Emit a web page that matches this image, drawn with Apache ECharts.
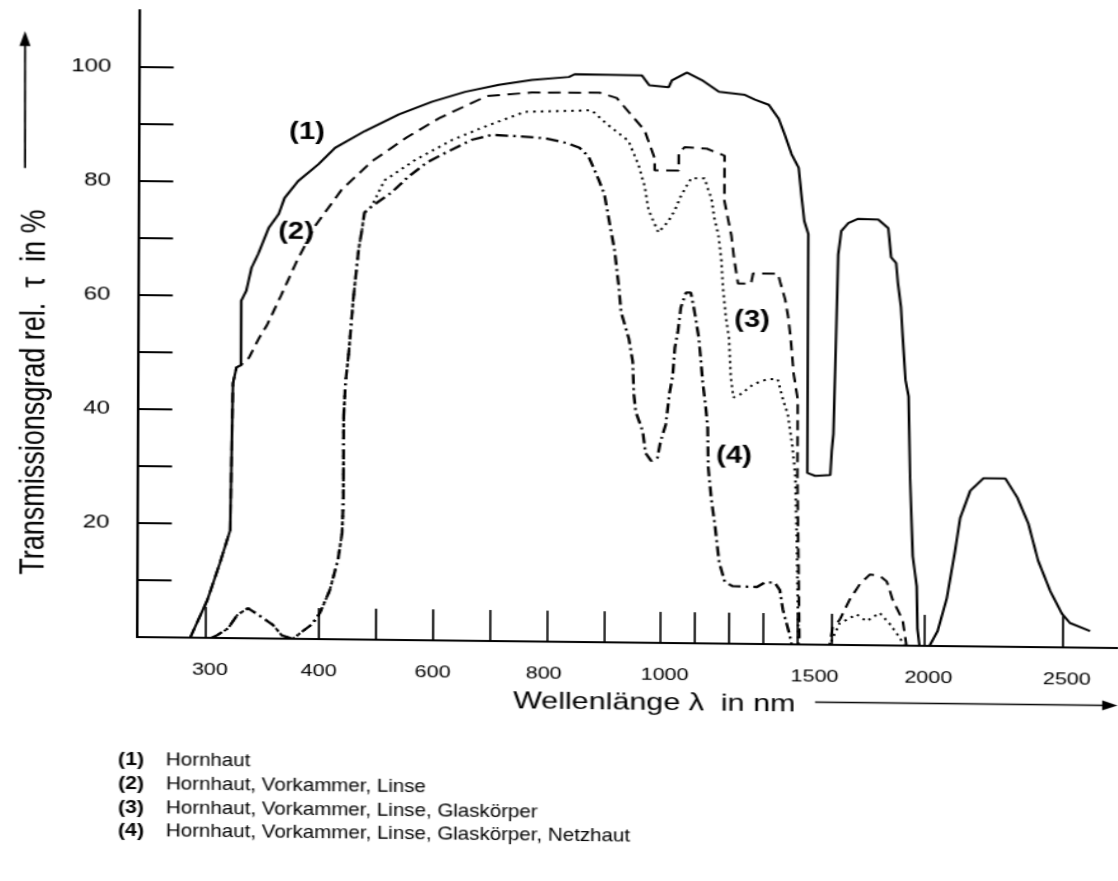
<!DOCTYPE html>
<html>
<head>
<meta charset="utf-8">
<script src="https://cdn.jsdelivr.net/npm/echarts@6/dist/echarts.min.js"></script>
<style>
  html, body { margin: 0; padding: 0; background: #fff; width: 1118px; height: 881px; overflow: hidden; }
  #chart { position: absolute; left: 0; top: 0; width: 880px; height: 881px; transform-origin: 0 0; }
</style>
</head>
<body>
<div id="chart"></div>
<script>
// ---------------- data (wavelength in nm, transmission in %) ----------------
const xTickNm  = [300, 400, 500, 600, 700, 800, 900, 1000, 1100, 1200, 1300, 1400, 1500, 2000, 2500];
const xLabelNm = [300, 400, 600, 800, 1000, 1500, 2000, 2500];
const yTickVals  = [10, 20, 30, 40, 50, 60, 70, 80, 90, 100];
const yLabelVals = [20, 40, 60, 80, 100];

// (1) Hornhaut
const hornhaut = [
  [286,0],[301,6.6],[312,13.1],[321,18.9],[323,44.7],[326,47.5],[330,47.9],[330,59.2],[334.5,61],[339,65],
  [345,67.5],[354,72],[363,74.5],[368,77.3],[380,80.3],[398,83.3],[425,86.2],[477,89.2],[537,92.2],[595,94.5],
  [653,96.3],[712,97.6],[770,98.5],[835,99.1],[845,99.6],[963,99.5],[976,97.8],[1017,97.5],[1026,98.7],[1070,100.1],
  [1114,98.8],[1164,96.8],[1240,96.3],[1269,95.5],[1310,94.6],[1339,92.2],[1357,89.4],[1377,86],[1398,83.6],[1406,79],
  [1415,74.3],[1427,72],[1427,30.1],[1450,29.6],[1494,29.8],[1498,34],[1505,37],[1516,52],[1527,68.5],[1543,72.6],
  [1580,74],[1634,74.8],[1742,74.7],[1796,73.2],[1812,68.1],[1839,67.1],[1849,63.6],[1866,59.4],[1876,54.2],[1892,46.6],
  [1909,43.7],[1919,29.2],[1935,15.7],[1957,10.4],[1962,2.9],[1973,0],[2018,0],[2047,2.6],[2080,8.4],[2109,16.7],
  [2127,22.5],[2163,27.3],[2210,29.5],[2290,29.5],[2333,26.2],[2373,21.7],[2409,15.2],[2453,9.9],[2496,5.9],[2525,4.3],
  [2598,2.9]
];
// (2) Hornhaut, Vorkammer, Linse
const vorkammerLinse = [
  [286,0],[301,6.6],[312,13.1],[321,18.9],[323,44.7],[326,47.5],[330,47.9],[337,49.2],[346,52.7],[353,55],
  [365.5,60.3],[379,66.2],[395,72.4],[437,78.9],[489.5,83.9],[551,88.2],[609,91.7],[691,95.6],[770,96.3],[889,96.4],
  [919,95.5],[968,89.9],[986,85],[986,82.9],[1047,82.9],[1047,85.9],[1064,87],[1129,86.8],[1181,85.6],[1181,77.7],
  [1193,74.2],[1202,71.6],[1210,67.6],[1222,63.2],[1260,63.2],[1266,65],[1339,65],[1345,63.6],[1360,60.5],[1369,57.5],
  [1377,53.5],[1386,47.4],[1398,43],[1398,29.4],[1406,0],[1494,0],[1505,3],[1543,4.4],[1597,8],[1651,10.7],
  [1704,12.4],[1758,12.2],[1796,11.2],[1828,8],[1882,4.5],[1903,0]
];
// (3) Hornhaut, Vorkammer, Linse, Glaskörper
const glaskoerper = [
  [305,0],[310,0.5],[319.5,1.7],[327.4,4],[337,5.3],[350.4,3.6],[359.3,2.4],[367,0.6],[377,0],[386,1.4],
  [394,2.6],[401.8,4.6],[419,8.6],[433,13.9],[440,18.6],[442,24.4],[442,39],[445,45],[451,50.8],[458,59.6],
  [467,68.4],[472,71.4],[477,74.9],[489.5,76],[512,80.6],[565,84.2],[630,87.8],[682,90],[758,92.9],[875,93.3],
  [902,90.9],[940,88],[958,83.7],[968.5,80.1],[975.6,75.9],[993,72],[1017.5,74],[1035,75.8],[1055,78.6],[1084,81.6],
  [1123,81.6],[1134,79.5],[1143,78.1],[1152,74.6],[1164,71.7],[1173,67.2],[1178,62.4],[1187,57.2],[1196,53.7],[1202,46.7],
  [1210,43.2],[1231,43.8],[1269,45.6],[1310,46.5],[1339,46.5],[1357,42.5],[1369,40.4],[1383,34.7],[1392,29.5],[1398,15.5],
  [1403,0],[1494,0],[1543,3.8],[1597,4.7],[1634,5.4],[1688,4.2],[1758,5.7],[1812,3.8],[1866,1.4],[1892,0]
];
// (4) Hornhaut, Vorkammer, Linse, Glaskörper, Netzhaut
const netzhaut = [
  [305,0],[310,0.5],[319.5,1.7],[327.4,4],[337,5.3],[350.4,3.6],[359.3,2.4],[367,0.6],[377,0],[386,1.4],
  [394,2.6],[401.8,4.6],[419,8.6],[433,13.9],[440,18.6],[442,24.4],[442,39],[445,45],[451,50.8],[458,59.6],
  [467,68.4],[472,71.4],[477,74.9],[489.5,76],[524.5,78.5],[554,81.3],[586,83.8],[612,85.2],[665,87.9],[700,88.8],
  [747,88.6],[793,88.3],[832,87.5],[854,86.7],[870,85.2],[887.6,81.2],[898,78.6],[907,73.7],[916,69],[924.5,62],
  [928,58],[942,53.3],[949,49.3],[951,43.7],[954.5,40.5],[967,37.1],[972,33.3],[982,31.9],[993,32.5],[998,35.2],
  [1012,38.3],[1023,43.9],[1032,46.9],[1038,51.8],[1047,54.8],[1055,58.9],[1070,61.5],[1084,61.5],[1093,58.9],[1108,53.6],
  [1120,45.8],[1129,41.4],[1135,37.9],[1137,30.9],[1146,25.6],[1158,20.4],[1170,14.3],[1187,10.8],[1210,10.1],[1281,10],
  [1304,10.8],[1333,10.8],[1348,9.5],[1357,6.1],[1377,1.7],[1383,0]
];

const curveLabels = ['(1)', '(2)', '(3)', '(4)'];
const legendTexts = [
  'Hornhaut',
  'Hornhaut, Vorkammer, Linse',
  'Hornhaut, Vorkammer, Linse, Glaskörper',
  'Hornhaut, Vorkammer, Linse, Glaskörper, Netzhaut'
];
const yAxisTitle = 'Transmissionsgrad rel.  \u03c4  in %';
const xAxisTitle = 'Wellenlänge \u03bb  in nm';

// ---------------- the figure's piecewise wavelength scale ----------------
const scaleNm  = [300, 400, 1000, 1500, 2000, 2500];
const scalePos = [0, 1.98, 7.98, 10.98, 12.61, 15.04];
function u(nm) {
  let i = 0;
  while (i < scaleNm.length - 2 && nm > scaleNm[i + 1]) i++;
  return scalePos[i] + (nm - scaleNm[i]) * (scalePos[i + 1] - scalePos[i]) / (scaleNm[i + 1] - scaleNm[i]);
}
const X_MIN = -1.2105, X_MAX = 16.0;

// ---------------- scan geometry (horizontal stretch + slight skew) ----------------
const S = 1.27, B = 0.0112, C = -0.0041, OX = 137, OY = 637;
const el = document.getElementById('chart');
el.style.transform = `matrix(${S}, ${B * S}, ${C}, 1, ${-OY * C}, ${-OX * B})`;
function L(X, Y) { // page coordinates -> chart-local coordinates
  let y = Y - B * (X - OX);
  const x = (X - C * (y - OY)) / S;
  y = Y - B * (S * x - OX);
  return [x, y];
}

const FONT = '"Liberation Sans", Arial, Helvetica, sans-serif';
const black = '#000';

// label nudges of the printed figure (page px)
const xLabelShift = [4, 0, 0, -3, 4, -17, 4, 4];
const xLabelRich = {};
xLabelShift.forEach((s, i) => {
  const d = 2 * s / S;
  xLabelRich['l' + i] = { fontSize: 17, fontFamily: FONT, color: black,
    padding: d >= 0 ? [0, 0, 0, d] : [0, -d, 0, 0] };
});

// ---------------- graphics (titles, arrows, curve labels, legend) ----------------
const graphic = [];
(function () {
  const c = L(35, 392);
  graphic.push({ type: 'text', x: c[0], y: c[1], rotation: Math.PI / 2,
    style: { text: yAxisTitle, font: `27px ${FONT}`, fill: black, align: 'center', verticalAlign: 'middle' } });
  const a = L(25, 168), b = L(25, 44);
  graphic.push({ type: 'line', shape: { x1: a[0], y1: a[1], x2: b[0], y2: b[1] }, style: { stroke: black, lineWidth: 1.6 } });
  const t = L(25, 31), l = L(19.5, 46), r = L(30.5, 46);
  graphic.push({ type: 'polygon', shape: { points: [t, l, r] }, style: { fill: black } });
})();
(function () {
  const p = L(513, 702);
  graphic.push({ type: 'text', x: p[0], y: p[1],
    style: { text: xAxisTitle, font: `24px ${FONT}`, fill: black, align: 'left', verticalAlign: 'middle' } });
  const a = L(815, 702);
  const tipX = 880, endX = tipX - 11;
  graphic.push({ type: 'line', shape: { x1: a[0], y1: a[1], x2: endX, y2: a[1] }, style: { stroke: black, lineWidth: 1.5 } });
  graphic.push({ type: 'polygon', shape: { points: [[tipX, a[1]], [endX - 1, a[1] - 5], [endX - 1, a[1] + 5]] }, style: { fill: black } });
})();
const curveLabelPos = [[307, 133], [296, 232], [752, 321], [734, 456]];
curveLabels.forEach((t, i) => {
  const p = L(curveLabelPos[i][0], curveLabelPos[i][1]);
  graphic.push({ type: 'text', x: p[0], y: p[1],
    style: { text: t, font: `bold 23px ${FONT}`, fill: black, align: 'center', verticalAlign: 'middle' } });
});
const legendY = [760, 784, 808, 831];
legendTexts.forEach((t, i) => {
  const n = L(118, legendY[i]);
  graphic.push({ type: 'text', x: n[0], y: n[1], scaleX: 0.88,
    style: { text: curveLabels[i], font: `bold 19px ${FONT}`, fill: black, align: 'left', verticalAlign: 'middle' } });
  const p = L(166, legendY[i]);
  graphic.push({ type: 'text', x: p[0], y: p[1], scaleX: 0.85,
    style: { text: t, font: `19px ${FONT}`, fill: black, align: 'left', verticalAlign: 'middle' } });
});

// ---------------- chart ----------------
const chart = echarts.init(el, null, { renderer: 'canvas', width: 880, height: 881 });
function mk(name, data, type, width) {
  return {
    name, type: 'line', data: data.map(p => [u(p[0]), p[1]]),
    showSymbol: false, symbol: 'none', smooth: false, silent: true, clip: false,
    lineStyle: { color: black, width, type }
  };
}
chart.setOption({
  animation: false,
  backgroundColor: '#fff',
  grid: { left: OX / S, right: 0, top: 10, bottom: 881 - OY, containLabel: false },
  xAxis: {
    type: 'value', min: X_MIN, max: X_MAX,
    axisLine: { show: true, onZero: false, lineStyle: { color: black, width: 2 } },
    axisTick: { show: true, inside: true, length: 31, customValues: xTickNm.map(u), lineStyle: { color: black, width: 1.6 } },
    axisLabel: {
      show: true, customValues: xLabelNm.map(u), margin: 24, color: black, fontSize: 17, fontFamily: FONT,
      rich: xLabelRich,
      formatter: v => {
        let best = 0;
        xLabelNm.forEach((nm, i) => { if (Math.abs(u(nm) - v) < Math.abs(u(xLabelNm[best]) - v)) best = i; });
        return `{l${best}|${xLabelNm[best]}}`;
      }
    },
    splitLine: { show: false }
  },
  yAxis: {
    type: 'value', min: 0, max: 110, interval: 10,
    axisLine: { show: true, onZero: false, lineStyle: { color: black, width: 2 } },
    axisTick: { show: true, inside: true, length: 27, customValues: yTickVals, lineStyle: { color: black, width: 2 } },
    axisLabel: { show: true, customValues: yLabelVals, margin: 22, color: black, fontSize: 19, fontFamily: FONT },
    splitLine: { show: false }
  },
  graphic,
  series: [
    mk('(1)', hornhaut, 'solid', 2),
    mk('(2)', vorkammerLinse, [10, 6], 2),
    mk('(3)', glaskoerper, [2, 4], 2),
    mk('(4)', netzhaut, [10, 4, 2, 4], 2.3)
  ]
});
</script>
</body>
</html>
